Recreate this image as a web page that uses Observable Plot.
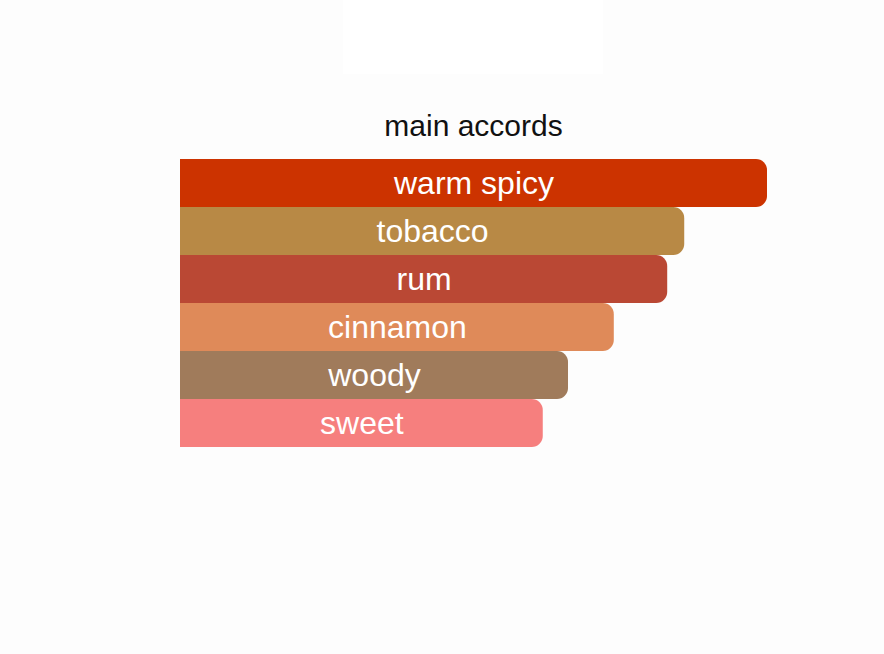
<!DOCTYPE html>
<html>
<head>
<meta charset="utf-8">
<script src="https://cdn.jsdelivr.net/npm/d3@7"></script>
<script src="https://cdn.jsdelivr.net/npm/@observablehq/plot@0.6"></script>
<style>
  html, body { margin: 0; padding: 0; background: #fdfdfd; width: 884px; height: 654px; overflow: hidden; }
  #box { position: absolute; left: 343px; top: 0; width: 260px; height: 74px; background: #ffffff; }
  #title { position: absolute; left: 180px; width: 587px; top: 111px; text-align: center;
           font-family: "Liberation Sans", Arial, sans-serif; font-size: 30px; line-height: 30px; color: #111; }
  #chart { position: absolute; left: 0; top: 150px; }
</style>
</head>
<body>
<div id="box"></div>
<div id="title">main accords</div>
<div id="chart"></div>
<script>
const accords = ["warm spicy", "tobacco", "rum", "cinnamon", "woody", "sweet"];
const strengths = [100, 85.9, 83.0, 73.9, 66.1, 61.8];
const colors = ["#cc3300", "#b88945", "#ba4834", "#df8a59", "#a07b5b", "#f67f7e"];

const data = accords.map((name, i) => ({name, value: strengths[i], color: colors[i]}));

const chart = Plot.plot({
  width: 884,
  height: 504,
  marginLeft: 180,
  marginRight: 117,
  marginTop: 9,
  marginBottom: 207,
  style: {background: "transparent", fontFamily: "Liberation Sans, Arial, sans-serif"},
  x: {domain: [0, 100], axis: null},
  y: {domain: accords, axis: null, padding: 0},
  marks: [
    Plot.barX(data, {x1: -5, x2: "value", y: "name", fill: "color", rx: 11, clip: true}),
    Plot.text(data, {x: d => d.value / 2, y: "name", text: "name", fill: "white",
                     fontSize: 32, textAnchor: "middle"})
  ]
});
document.getElementById("chart").appendChild(chart);
</script>
</body>
</html>
